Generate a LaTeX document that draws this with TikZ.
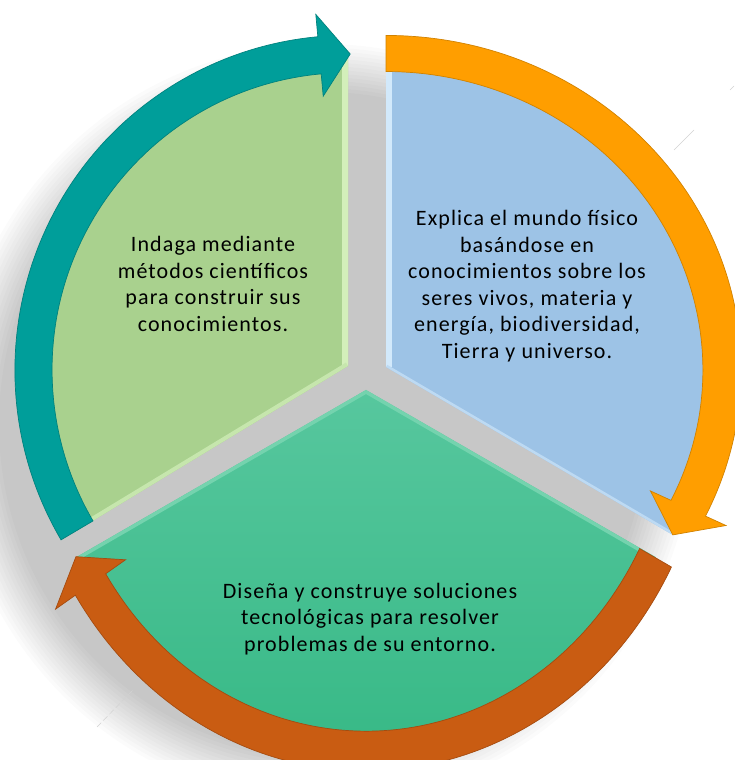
\documentclass[tikz,border=0pt]{standalone}
\usepackage{fontspec}
\newfontfamily\lbl{Carlito}[LetterSpace=5]
\definecolor{GreenFill}{HTML}{A9D18E}
\definecolor{GreenEdge}{HTML}{D3EFBA}
\definecolor{BlueFill}{HTML}{9DC3E6}
\definecolor{BlueEdge}{HTML}{D2E9FB}
\definecolor{BotTop}{HTML}{57C79E}
\definecolor{BotBot}{HTML}{33B783}
\definecolor{BotEdge}{HTML}{74D3AE}
\definecolor{Teal}{HTML}{009E9A}
\definecolor{Orange}{HTML}{FF9E00}
\definecolor{Rust}{HTML}{C95C12}
\tikzset{
  txt/.style={align=center, text=black, font=\lbl\fontsize{22}{26.5}\selectfont, inner sep=0pt},
  arrowband/.style={fill=#1, draw=#1!82!black, line width=0.7pt},
  artifact/.style={draw=gray!35, line width=0.5pt},
}
% #1 colour, #2 tail angle, #3 head-back angle, #4 tip angle, #5 half width, #6 head half width
\newcommand\cyclearrow[6]{%
  \path[arrowband=#1] (#2:{1+#5}) arc[start angle=#2, end angle=#3, radius={1+#5}]
    -- (#3:{1+#6}) -- (#4:1) -- (#3:{1-#6}) -- (#3:{1-#5})
    arc[start angle=#3, end angle=#2, radius={1-#5}] -- cycle;}
\begin{document}
\begin{tikzpicture}[x=1pt,y=1pt]
\useasboundingbox (0,0) rectangle (734,760);
\fill[white] (0,0) rectangle (734,760);
% soft shadow
\foreach \i in {0,...,13}{
  \fill[black,opacity=0.017] (323,336) ellipse[x radius={372-\i*48/13}, y radius={380-\i*48/13}];}
% sector vertices
\coordinate (Gv) at (348,394);
\coordinate (Bv) at (386,393);
\coordinate (Tv) at (366,370);
% green sector
\begin{scope}[shift={(348,390)}, xscale=314.5, yscale=316]
  \fill[GreenFill] (Gv) -- (90:1) arc[start angle=90, end angle=210.5, radius=1] -- cycle;
  \begin{scope}
    \clip (Gv) -- (90:1) arc[start angle=90, end angle=210.5, radius=1] -- cycle;
    \draw[GreenEdge, line width=12pt] (Gv) -- (90:1);
    \draw[GreenEdge!70!GreenFill, line width=8pt] (Gv) -- (210.5:1);
  \end{scope}
\end{scope}
% blue sector
\begin{scope}[shift={(386,390)}, xscale=336, yscale=316.5]
  \fill[BlueFill] (Bv) -- (90:1) arc[start angle=90, end angle=-31.4, radius=1] -- cycle;
  \begin{scope}
    \clip (Bv) -- (90:1) arc[start angle=90, end angle=-31.4, radius=1] -- cycle;
    \draw[BlueEdge, line width=11pt] (Bv) -- (90:1);
    \draw[BlueEdge!60!BlueFill, line width=5pt] (Bv) -- (-31.4:1);
  \end{scope}
\end{scope}
% bottom sector
\begin{scope}[shift={(366,370)}, xscale=327, yscale=361]
  \shade[top color=BotTop, bottom color=BotBot] (Tv) -- (207.6:1) arc[start angle=207.6, end angle=332.4, radius=1] -- cycle;
  \begin{scope}
    \clip (Tv) -- (207.6:1) arc[start angle=207.6, end angle=332.4, radius=1] -- cycle;
    \draw[BotEdge, line width=7pt] (207.6:1) -- (Tv) -- (332.4:1);
  \end{scope}
\end{scope}
% arrows
\begin{scope}[shift={(348,390)}, xscale=314.5, yscale=316]
  \cyclearrow{Teal}{210.5}{95.2}{89.6}{0.059}{0.13}
\end{scope}
\begin{scope}[shift={(386,390)}, xscale=336, yscale=316.5]
  \cyclearrow{Orange}{90}{-25.9}{-31.4}{0.057}{0.125}
\end{scope}
\begin{scope}[shift={(366,370)}, xscale=327, yscale=361]
  \cyclearrow{Rust}{332.3}{212.6}{207.5}{0.055}{0.127}
\end{scope}
% texts
\node[txt] (t1) at (213,476) {Indaga mediante\\métodos científicos\\para construir sus\\conocimientos.};
\node[txt] (t2) at (527,474) {Explica el mundo físico\\basándose en\\conocimientos sobre los\\seres vivos, materia y\\energía, biodiversidad,\\Tierra y universo.};
\node[txt] (t3) at (370,141) {Diseña y construye soluciones\\tecnológicas para resolver\\problemas de su entorno.};
% faint guide marks
\draw[artifact] (674,610) -- (694,630);
\draw[artifact] (730,670) -- (734,674);
\draw[artifact, dash pattern=on 6pt off 3pt] (97,33) -- (133,70);
\end{tikzpicture}
\end{document}
